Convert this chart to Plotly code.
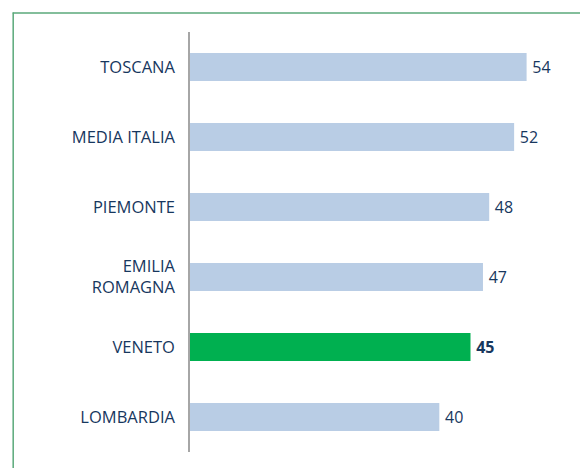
import plotly.graph_objects as go

categories = ["TOSCANA", "MEDIA ITALIA", "PIEMONTE", "EMILIA<br>ROMAGNA", "VENETO", "LOMBARDIA"]
values = [54, 52, 48, 47, 45, 40]
highlight = "VENETO"

W, H = 580, 468
L, R, T, B = 190, 15.6, 32, 16
plot_w = W - L - R
plot_h = H - T - B

colors = ["#00b050" if c == highlight else "#b9cde5" for c in categories]
texts = [f"\u2009<b>{v}</b>" if c == highlight else f"\u2009{v}" for c, v in zip(categories, values)]

fig = go.Figure(go.Bar(
    x=values, y=categories, orientation="h",
    marker=dict(color=colors, line=dict(width=0)),
    text=texts, textposition="outside", cliponaxis=False,
    textfont=dict(family="Open Sans", size=16, color="#17375e"),
    width=0.4,
))

def px_x(p):
    return (p - L) / plot_w

def px_y(p):
    return 1 - (p - T) / plot_h

border = "#5aa97a"
fig.add_shape(type="line", xref="paper", yref="paper",
              x0=px_x(13), x1=px_x(13), y0=px_y(12.5), y1=px_y(470),
              line=dict(color=border, width=1.5))
fig.add_shape(type="line", xref="paper", yref="paper",
              x0=px_x(12.5), x1=px_x(585), y0=px_y(13), y1=px_y(13),
              line=dict(color=border, width=1.5))

fig.update_layout(
    width=W, height=H,
    margin=dict(l=L, r=R, t=T, b=B),
    plot_bgcolor="white", paper_bgcolor="white",
    showlegend=False,
    xaxis=dict(range=[0, 60], visible=False, showgrid=False, zeroline=False),
    yaxis=dict(autorange="reversed", showgrid=False, zeroline=False,
               showline=True, linecolor="#a6a6a6", linewidth=1.5,
               ticks="", ticklabelstandoff=10,
               tickfont=dict(family="Open Sans", size=16.5, color="#17375e")),
    font=dict(family="Open Sans"),
)

fig.write_html("out.html", config={"displayModeBar": False},
               post_script="document.body.style.margin='0';")
